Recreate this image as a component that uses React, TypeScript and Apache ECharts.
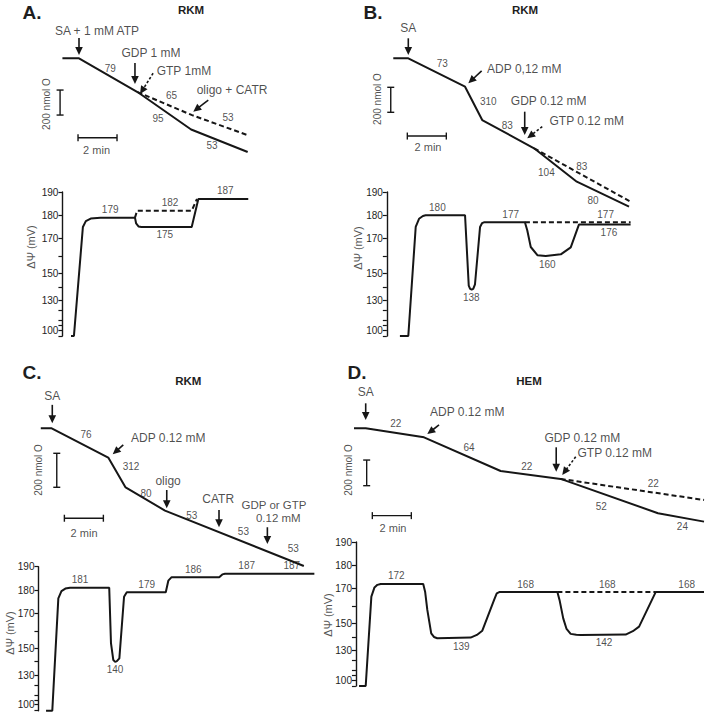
import React, { useEffect, useRef } from 'react';
import * as echarts from 'echarts';

const FONT = '"Liberation Sans", Arial, Helvetica, sans-serif';
const INK = '#161616';
const TXT = '#1e1e1e';
const PX_PER_MIN = 19.5;

// ΔΨ axis of the figure is non-linear: break points (mV) and their axis units
const PSI_BREAK_MV = [95, 100, 130, 150, 170, 180, 190];
const PSI_BREAK_AXIS = [0, 6, 35.7, 62.4, 97.4, 120.7, 144];
const PSI_TICK_LABELS = [100, 130, 150, 170, 180, 190];
const PSI_TICKS = [95, 100, 105, 110, 120, 130, 140, 150, 160, 170, 180, 190];

// ---------------- Panel A (RKM) ----------------
const A_O2_TIME = [-0.85, 0, 3.0, 5.75, 8.65];
const A_O2 = [0, 0, 270, 570, 750];
const A_O2_GTP_TIME = [3.0, 5.8, 8.65];
const A_O2_GTP = [270, 455, 615];
const A_RATES: [number, number, string][] = [[1.6, 78, '79'], [4.75, 294, '65'], [4.05, 478, '95'], [7.64, 470, '53'], [6.82, 694, '53']];
const A_ADDITIONS: [number, number, string][] = [[0.92, -219, 'SA + 1 mM ATP'], [3.69, -42, 'GDP 1 mM'], [5.38, 102, 'GTP 1mM'], [7.85, 253, 'oligo + CATR']];
const A_ARROWS = [[0, -162, 0, -26, 0], [2.87, 38, 2.87, 206, 0], [3.8, 120, 3.13, 285, 1], [6.63, 334, 5.86, 427, 0]];
const A_SCALE_BARS = [[-0.05, 635, 1.95, 635], [-0.97, 254, -0.97, 454]];
const A_SCALE_TEXT: [number, number, string][] = [[0.9, 733, '2 min'], [-1.66, 366, '200 nmol O']];
const A_PSI_TIME = [-0.41, -0.26, 0.2, 0.35, 0.6, 1.1, 2.87, 2.93, 3.05, 3.2, 5.78, 6.12, 8.68];
const A_PSI = [95, 95, 175, 177.5, 178.6, 179, 179, 176.5, 175.2, 175, 175, 187, 187];
const A_PSI_GTP_TIME = [2.87, 2.98, 5.78, 6.05];
const A_PSI_GTP = [179, 182, 182, 187];
const A_PSI_LABELS: [number, number, string, string][] = [[1.6, 179, '179', 'top'], [4.67, 182, '182', 'top'], [4.4, 175, '175', 'bottom'], [7.5, 187, '187', 'top']];

// ---------------- Panel B (RKM) ----------------
const B_O2_TIME = [-0.77, 0, 2.91, 3.79, 6.45, 8.64, 11.32];
const B_O2 = [0, 0, 227, 494, 720, 987, 1187];
const B_O2_GTP_TIME = [6.45, 11.4];
const B_O2_GTP = [720, 1147];
const B_RATES: [number, number, string][] = [[1.74, 40, '73'], [4.1, 342, '310'], [5.08, 534, '83'], [7.08, 912, '104'], [8.9, 862, '83'], [9.47, 1134, '80']];
const B_ADDITIONS: [number, number, string][] = [[0, -240, 'SA'], [5.95, 88, 'ADP 0,12 mM'], [7.2, 342, 'GDP 0.12 mM'], [9.15, 502, 'GTP 0.12 mM']];
const B_ARROWS = [[0, -160, 0, -27, 0], [3.76, 101, 3.08, 200, 0], [5.97, 427, 5.97, 613, 0], [6.87, 547, 6.1, 640, 1]];
const B_SCALE_BARS = [[-0.05, 622, 1.95, 622], [-0.9, 232, -0.9, 432]];
const B_SCALE_TEXT: [number, number, string][] = [[1.01, 707, '2 min'], [-1.6, 326, '200 nmol O']];
const B_PSI_TIME = [-0.43, 0, 0.38, 0.55, 0.75, 0.89, 2.91, 3.1, 3.17, 3.25, 3.33, 3.42, 3.68, 3.78, 3.88, 5.98, 6.1, 6.28, 6.62, 7.05, 7.82, 8.33, 8.75, 11.4];
const B_PSI = [95, 95, 175, 178.5, 179.7, 180, 180, 141, 138.5, 138, 138.5, 142, 175, 176.6, 177, 177, 173.6, 165.2, 160.5, 160, 161, 165, 176, 176];
const B_PSI_GTP_TIME = [5.98, 11.4];
const B_PSI_GTP = [177, 177];
const B_PSI_LABELS: [number, number, string, string][] = [[1.49, 180, '180', 'top'], [3.23, 138, '138', 'bottom'], [5.25, 177, '177', 'top'], [7.13, 160, '160', 'bottom'], [10.12, 177, '177', 'top'], [10.29, 176, '176', 'bottom']];

// ---------------- Panel C (RKM) ----------------
const C_O2_TIME = [-0.56, 0, 2.9, 3.79, 5.81, 12.93];
const C_O2 = [0, 0, 172, 348, 484, 810];
const C_RATES: [number, number, string][] = [[1.76, 34, '76'], [4.07, 222, '312'], [4.84, 386, '80'], [7.18, 510, '53'], [9.83, 608, '53'], [12.39, 706, '53']];
const C_ADDITIONS: [number, number, string][] = [[0.03, -192, 'SA'], [5.98, 59, 'ADP 0.12 mM'], [5.97, 308, 'oligo'], [8.54, 416, 'CATR'], [11.4, 451, 'GDP or GTP'], [11.62, 527, '0.12 mM']];
const C_ARROWS = [[0.03, -138, 0.03, -29, 0], [3.67, 98, 3.13, 153, 0], [5.9, 363, 5.9, 470, 0], [8.58, 480, 8.58, 582, 0], [11.06, 582, 11.06, 680, 0]];
const C_SCALE_BARS = [[0.65, 529, 2.65, 529], [0.26, 147, 0.26, 347]];
const C_SCALE_TEXT: [number, number, string][] = [[1.66, 617, '2 min'], [-0.69, 245, '200 nmol O']];
const C_PSI_TIME = [-0.29, 0.03, 0.34, 0.5, 0.7, 0.94, 2.95, 3.04, 3.16, 3.25, 3.33, 3.47, 3.71, 3.85, 5.85, 5.98, 6.15, 8.59, 8.75, 8.89, 13.47];
const C_PSI = [95, 95, 176.4, 179.5, 180.6, 181, 181, 153, 141.2, 140, 140.2, 142.5, 177.1, 179, 179, 184, 185.5, 185.5, 186.7, 187, 187];
const C_PSI_LABELS: [number, number, string, string][] = [[1.45, 181, '181', 'top'], [3.25, 140, '140', 'bottom'], [4.87, 179, '179', 'top'], [7.26, 185.5, '186', 'top'], [10, 187, '187', 'top'], [12.31, 187, '187', 'top']];

// ---------------- Panel D (HEM) ----------------
const D_O2_TIME = [-0.6, 0, 2.99, 6.92, 10, 14.99, 17.35];
const D_O2 = [0, 0, 71, 335, 397, 666, 732];
const D_O2_GTP_TIME = [10, 17.35];
const D_O2_GTP = [397, 562];
const D_RATES: [number, number, string][] = [[1.54, -34, '22'], [5.3, 149, '64'], [8.26, 296, '22'], [14.75, 431, '22'], [12.08, 615, '52'], [16.24, 771, '24']];
const D_ADDITIONS: [number, number, string][] = [[0, -287, 'SA'], [5.21, -125, 'ADP 0.12 mM'], [11.11, 78, 'GDP 0.12 mM'], [12.77, 196, 'GTP 0.12 mM']];
const D_ARROWS = [[0, -196, 0, -65, 0], [3.76, -26, 3.16, 45, 0], [9.77, 149, 9.77, 340, 0], [10.77, 223, 10.08, 366, 1]];
const D_SCALE_BARS = [[0.34, 685, 2.34, 685], [0.05, 249, 0.05, 450]];
const D_SCALE_TEXT: [number, number, string][] = [[1.4, 779, '2 min'], [-0.86, 327, '200 nmol O']];
const D_PSI_TIME = [-0.34, 0, 0.29, 0.45, 0.6, 0.77, 2.95, 3.05, 3.16, 3.36, 3.5, 3.67, 5.38, 5.7, 5.98, 6.6, 6.72, 6.85, 9.83, 9.95, 10.13, 10.3, 10.51, 10.8, 11.03, 13.33, 13.7, 14.02, 14.87, 17.35];
const D_PSI = [95, 95, 165.4, 170.5, 171.6, 172, 172, 168, 157.8, 142.7, 140, 139, 139.5, 141.5, 144.7, 164, 167.3, 168, 168, 163, 153, 146, 142.3, 141.6, 141.5, 141.8, 144.3, 147.7, 168, 168];
const D_PSI_GTP_TIME = [9.83, 14.87];
const D_PSI_GTP = [168, 168];
const D_PSI_LABELS: [number, number, string, string][] = [[1.57, 172, '172', 'top'], [4.9, 139, '139', 'bottom'], [8.2, 168, '168', 'top'], [12.39, 168, '168', 'top'], [12.22, 141.5, '142', 'bottom'], [16.46, 168, '168', 'top']];

const PANELS = [
  { o2: [A_O2_TIME, A_O2], o2Gtp: [A_O2_GTP_TIME, A_O2_GTP], rates: A_RATES, additions: A_ADDITIONS, arrows: A_ARROWS, bars: A_SCALE_BARS, barText: A_SCALE_TEXT, psi: [A_PSI_TIME, A_PSI], psiGtp: [A_PSI_GTP_TIME, A_PSI_GTP], psiLabels: A_PSI_LABELS },
  { o2: [B_O2_TIME, B_O2], o2Gtp: [B_O2_GTP_TIME, B_O2_GTP], rates: B_RATES, additions: B_ADDITIONS, arrows: B_ARROWS, bars: B_SCALE_BARS, barText: B_SCALE_TEXT, psi: [B_PSI_TIME, B_PSI], psiGtp: [B_PSI_GTP_TIME, B_PSI_GTP], psiLabels: B_PSI_LABELS },
  { o2: [C_O2_TIME, C_O2], o2Gtp: null, rates: C_RATES, additions: C_ADDITIONS, arrows: C_ARROWS, bars: C_SCALE_BARS, barText: C_SCALE_TEXT, psi: [C_PSI_TIME, C_PSI], psiGtp: null, psiLabels: C_PSI_LABELS },
  { o2: [D_O2_TIME, D_O2], o2Gtp: [D_O2_GTP_TIME, D_O2_GTP], rates: D_RATES, additions: D_ADDITIONS, arrows: D_ARROWS, bars: D_SCALE_BARS, barText: D_SCALE_TEXT, psi: [D_PSI_TIME, D_PSI], psiGtp: [D_PSI_GTP_TIME, D_PSI_GTP], psiLabels: D_PSI_LABELS },
];

// layout (pixels): origin of time axis and of oxygen axis, scales and ranges
const LAYOUT = [
  { x0: 79, y0: 58.3, nmolPerPx: 8, tmin: -3, tmax: 10, omin: -400, omax: 800, psiTop: 192, psiTmin: -0.85, psiTmax: 9 },
  { x0: 408.3, y0: 58.3, nmolPerPx: 8, tmin: -3, tmax: 12, omin: -400, omax: 1250, psiTop: 192, psiTmin: -1.1, psiTmax: 12 },
  { x0: 51.7, y0: 428.3, nmolPerPx: 200 / 34, tmin: -2.5, tmax: 14, omin: -250, omax: 850, psiTop: 566.7, psiTmin: -0.68, psiTmax: 14 },
  { x0: 365.7, y0: 428.3, nmolPerPx: 200 / 25.5, tmin: -1.5, tmax: 17.5, omin: -300, omax: 800, psiTop: 542, psiTmin: -0.5, psiTmax: 17.5 },
];

function interp(v: number, xs: number[], ys: number[]) {
  let i = 0;
  if (v <= xs[0]) i = 0;
  else if (v >= xs[xs.length - 1]) i = xs.length - 2;
  else { while (i < xs.length - 2 && v > xs[i + 1]) i++; }
  return ys[i] + (v - xs[i]) * (ys[i + 1] - ys[i]) / (xs[i + 1] - xs[i]);
}
const psi = (mv: number) => interp(mv, PSI_BREAK_MV, PSI_BREAK_AXIS);
const psiInv = (u: number) => interp(u, PSI_BREAK_AXIS, PSI_BREAK_MV);

const zip = (t: number[], v: number[], f = (x: number) => x) => t.map((x, i) => [x, f(v[i])]);

function arrowItem(_params: any, api: any) {
  const p1 = api.coord([api.value(0), api.value(1)]);
  const p2 = api.coord([api.value(2), api.value(3)]);
  const dashed = api.value(4) === 1;
  const dx = p2[0] - p1[0], dy = p2[1] - p1[1];
  const len = Math.hypot(dx, dy) || 1;
  const ux = dx / len, uy = dy / len;
  const head = 8, half = 3.8;
  const bx = p2[0] - ux * head, by = p2[1] - uy * head;
  return {
    type: 'group',
    children: [
      { type: 'line', shape: { x1: p1[0], y1: p1[1], x2: bx + ux, y2: by + uy }, style: { stroke: INK, lineWidth: 1.6, lineDash: dashed ? [2.5, 2] : null } },
      { type: 'polygon', shape: { points: [[p2[0], p2[1]], [bx - uy * half, by + ux * half], [bx + uy * half, by - ux * half]] }, style: { fill: INK } },
    ],
  };
}

function barItem(_params: any, api: any) {
  const p1 = api.coord([api.value(0), api.value(1)]);
  const p2 = api.coord([api.value(2), api.value(3)]);
  const dx = p2[0] - p1[0], dy = p2[1] - p1[1];
  const len = Math.hypot(dx, dy) || 1;
  const nx = -dy / len, ny = dx / len;
  const c = 3.5;
  const st = { stroke: INK, lineWidth: 1.4 };
  return {
    type: 'group',
    children: [
      { type: 'line', shape: { x1: p1[0], y1: p1[1], x2: p2[0], y2: p2[1] }, style: st },
      { type: 'line', shape: { x1: p1[0] - nx * c, y1: p1[1] - ny * c, x2: p1[0] + nx * c, y2: p1[1] + ny * c }, style: st },
      { type: 'line', shape: { x1: p2[0] - nx * c, y1: p2[1] - ny * c, x2: p2[0] + nx * c, y2: p2[1] + ny * c }, style: st },
    ],
  };
}

function buildOption() {
  const grid: any[] = [], xAxis: any[] = [], yAxis: any[] = [], series: any[] = [];
  PANELS.forEach((p, k) => {
    const L = LAYOUT[k];
    const gO = 2 * k, gP = 2 * k + 1;
    grid.push({ left: L.x0 + L.tmin * PX_PER_MIN, width: (L.tmax - L.tmin) * PX_PER_MIN, top: L.y0 + L.omin / L.nmolPerPx, height: (L.omax - L.omin) / L.nmolPerPx, outerBoundsMode: 'none' });
    grid.push({ left: L.x0 + L.psiTmin * PX_PER_MIN, width: (L.psiTmax - L.psiTmin) * PX_PER_MIN, top: L.psiTop, height: 144, outerBoundsMode: 'none' });
    xAxis.push({ type: 'value', gridIndex: gO, min: L.tmin, max: L.tmax, show: false });
    yAxis.push({ type: 'value', gridIndex: gO, min: L.omin, max: L.omax, inverse: true, show: false });
    xAxis.push({ type: 'value', gridIndex: gP, min: L.psiTmin, max: L.psiTmax, show: false });
    yAxis.push({
      type: 'value', gridIndex: gP, min: 0, max: 144,
      splitLine: { show: false },
      axisLine: { show: true, onZero: false, lineStyle: { color: INK, width: 1.4 } },
      axisTick: { show: true, customValues: PSI_TICKS.map(psi), length: 4, lineStyle: { color: INK, width: 1.2 } },
      axisLabel: { show: true, customValues: PSI_TICK_LABELS.map(psi), formatter: (v: number) => String(Math.round(psiInv(v))), fontSize: 10, color: TXT, fontFamily: FONT, margin: 4 },
    });

    const lineBase = { type: 'line', showSymbol: false, symbol: 'none', silent: true, clip: false, animation: false };
    series.push({ ...lineBase, xAxisIndex: gO, yAxisIndex: gO, data: zip(p.o2[0], p.o2[1]), lineStyle: { color: INK, width: 2 } });
    if (p.o2Gtp) series.push({ ...lineBase, xAxisIndex: gO, yAxisIndex: gO, data: zip(p.o2Gtp[0], p.o2Gtp[1]), lineStyle: { color: INK, width: 2, type: [5, 3] } });
    series.push({ ...lineBase, xAxisIndex: gP, yAxisIndex: gP, data: zip(p.psi[0], p.psi[1], psi), lineStyle: { color: INK, width: 2 } });
    if (p.psiGtp) series.push({ ...lineBase, xAxisIndex: gP, yAxisIndex: gP, data: zip(p.psiGtp[0], p.psiGtp[1], psi), lineStyle: { color: INK, width: 2, type: [5, 3] } });

    series.push({ type: 'custom', xAxisIndex: gO, yAxisIndex: gO, silent: true, renderItem: arrowItem, data: p.arrows });
    series.push({ type: 'custom', xAxisIndex: gO, yAxisIndex: gO, silent: true, renderItem: barItem, data: p.bars });

    const textItems = [
      ...p.rates.map(([t, o, s]) => ({ value: [t, o], label: { formatter: s, fontSize: 10 } })),
      ...p.additions.map(([t, o, s]) => ({ value: [t, o], label: { formatter: s, fontSize: k === 2 && (s === 'GDP or GTP' || s === '0.12 mM') ? 11.5 : 12 } })),
      ...p.barText.map(([t, o, s]) => ({ value: [t, o], label: { formatter: s, fontSize: s === '2 min' ? 11 : 10, rotate: s === '2 min' ? 0 : 90 } })),
    ];
    series.push({ type: 'scatter', xAxisIndex: gO, yAxisIndex: gO, symbolSize: 0, silent: true, clip: false, data: textItems, label: { show: true, position: 'inside', color: TXT, fontFamily: FONT, align: 'center', verticalAlign: 'middle' } });
    series.push({ type: 'scatter', xAxisIndex: gP, yAxisIndex: gP, symbolSize: 0, silent: true, clip: false,
      data: p.psiLabels.map(([t, mv, s, pos]) => ({ value: [t, psi(mv)], label: { formatter: s, position: pos } })),
      label: { show: true, distance: 3, fontSize: 10, color: TXT, fontFamily: FONT } });
  });

  const txt = (x: number, y: number, text: string, font: string, fill = TXT, rotation = 0) => ({
    type: 'text', x, y, rotation, silent: true,
    style: { text, font, fill, textAlign: 'center', textVerticalAlign: 'middle' },
  });
  const graphic = [
    txt(32, 12.5, 'A.', `bold 19px ${FONT}`), txt(373, 12, 'B.', `bold 19px ${FONT}`),
    txt(32, 372.5, 'C.', `bold 19px ${FONT}`), txt(357, 372.5, 'D.', `bold 19px ${FONT}`),
    txt(191, 9.5, 'RKM', `bold 11.5px ${FONT}`), txt(525, 9.5, 'RKM', `bold 11.5px ${FONT}`),
    txt(188.3, 380.7, 'RKM', `bold 11.5px ${FONT}`), txt(529, 380.7, 'HEM', `bold 11.5px ${FONT}`),
    txt(31, 247, 'ΔΨ (mV)', `11px ${FONT}`, '#555', Math.PI / 2),
    txt(358, 248, 'ΔΨ (mV)', `11px ${FONT}`, '#555', Math.PI / 2),
    txt(10, 633, 'ΔΨ (mV)', `11px ${FONT}`, '#555', Math.PI / 2),
    txt(328, 615, 'ΔΨ (mV)', `11px ${FONT}`, '#555', Math.PI / 2),
  ];

  return { animation: false, backgroundColor: '#ffffff', textStyle: { fontFamily: FONT }, grid, xAxis, yAxis, series, graphic };
}

export default function App() {
  const ref = useRef<HTMLDivElement>(null);
  useEffect(() => {
    if (!ref.current) return;
    const chart = echarts.init(ref.current, undefined, { renderer: 'svg' });
    chart.setOption(buildOption() as any);
    return () => chart.dispose();
  }, []);
  return <div ref={ref} style={{ position: 'absolute', left: 0, top: 0, width: 708, height: 716 }} />;
}
